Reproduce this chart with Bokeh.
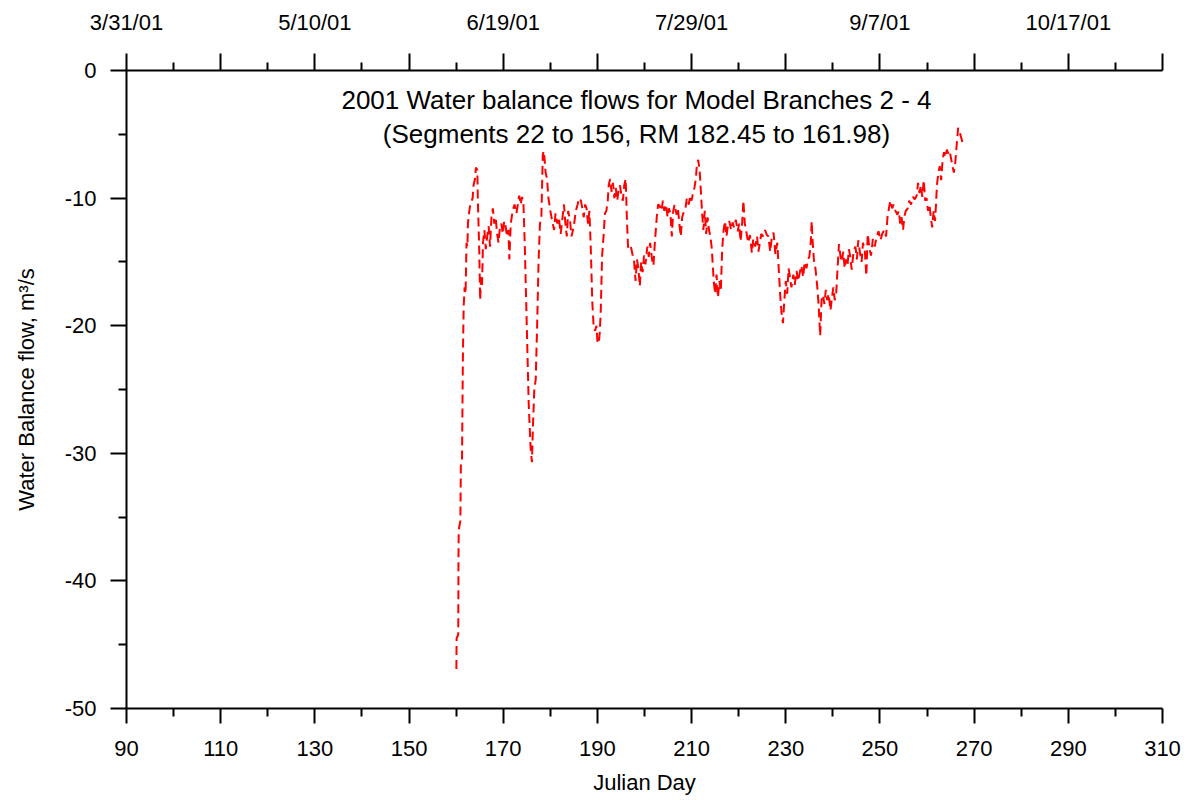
from bokeh.plotting import figure
from bokeh.models import Range1d, LinearAxis, FixedTicker, Label, ColumnDataSource
from bokeh.embed import file_html
from bokeh.resources import INLINE

# ---------------- data ----------------
julian_day = [
    160.05, 160.10, 160.45, 160.50, 160.55, 160.90, 161.00, 161.25, 161.35, 161.45,
    161.60, 161.80, 162.00, 162.20, 162.40, 162.50, 162.80, 163.00, 163.30, 163.50,
    163.70, 164.00, 164.20, 164.50, 164.60, 164.90, 165.10, 165.30, 165.50, 165.70,
    166.00, 166.30, 166.60, 166.90, 167.20, 167.50, 167.80, 168.10, 168.40, 168.70,
    169.00, 169.30, 169.60, 169.90, 170.20, 170.50, 170.80, 171.10, 171.30, 171.60,
    172.00, 172.40, 172.80, 173.10, 173.40, 173.70, 174.00, 174.30, 174.60, 175.00,
    175.40, 175.80, 176.10, 176.30, 176.60, 176.90, 177.20, 177.50, 177.80, 178.10,
    178.40, 178.60, 178.80, 179.00, 179.30, 179.60, 180.00, 180.40, 180.80, 181.10,
    181.50, 181.80, 182.20, 182.60, 182.90, 183.20, 183.50, 183.80, 184.20, 184.50,
    185.00, 185.40, 185.80, 186.10, 186.50, 186.80, 187.10, 187.40, 187.70, 188.00,
    188.30, 188.60, 188.90, 189.20, 189.50, 189.80, 190.00, 190.30, 190.50, 190.70,
    191.00, 191.30, 191.60, 191.90, 192.20, 192.40, 192.70, 193.00, 193.30, 193.60,
    193.90, 194.20, 194.50, 194.80, 195.10, 195.40, 195.70, 196.00, 196.30, 196.50,
    196.80, 197.10, 197.50, 197.80, 198.10, 198.40, 198.70, 199.00, 199.30, 199.60,
    199.90, 200.20, 200.60, 200.90, 201.20, 201.60, 201.90, 202.20, 202.60, 202.90,
    203.20, 203.60, 203.90, 204.20, 204.60, 204.90, 205.20, 205.50, 205.80, 206.10,
    206.40, 206.80, 207.10, 207.40, 207.70, 208.00, 208.40, 208.70, 209.00, 209.40,
    209.70, 210.00, 210.30, 210.60, 210.90, 211.10, 211.40, 211.70, 211.90, 212.20,
    212.50, 212.80, 213.10, 213.40, 213.70, 214.00, 214.30, 214.70, 215.00, 215.30,
    215.60, 215.90, 216.20, 216.50, 216.80, 217.10, 217.40, 217.70, 218.00, 218.40,
    218.70, 219.00, 219.40, 219.80, 220.10, 220.40, 220.70, 221.00, 221.30, 221.70,
    222.00, 222.40, 222.80, 223.10, 223.50, 223.90, 224.20, 224.50, 224.80, 225.20,
    225.60, 226.00, 226.30, 226.70, 227.00, 227.40, 227.80, 228.20, 228.50, 228.80,
    229.10, 229.40, 229.70, 230.00, 230.30, 230.60, 230.90, 231.20, 231.60, 231.90,
    232.30, 232.60, 233.00, 233.30, 233.70, 234.00, 234.40, 234.70, 235.00, 235.30,
    235.50, 235.70, 236.00, 236.30, 236.70, 237.00, 237.30, 237.60, 237.90, 238.20,
    238.50, 238.80, 239.10, 239.50, 239.80, 240.10, 240.40, 240.70, 241.00, 241.30,
    241.60, 241.90, 242.20, 242.50, 242.80, 243.10, 243.40, 243.70, 244.00, 244.40,
    244.80, 245.10, 245.40, 245.80, 246.10, 246.40, 246.80, 247.10, 247.40, 247.80,
    248.10, 248.50, 248.90, 249.30, 249.70, 250.10, 250.50, 250.90, 251.30, 251.60,
    251.90, 252.20, 252.60, 252.90, 253.30, 253.70, 254.00, 254.30, 254.60, 254.90,
    255.20, 255.50, 255.90, 256.20, 256.60, 257.00, 257.40, 257.80, 258.10, 258.40,
    258.70, 259.00, 259.30, 259.60, 259.90, 260.20, 260.50, 260.80, 261.10, 261.40,
    261.70, 261.90, 262.10, 262.40, 262.70, 263.00, 263.30, 263.60, 263.90, 264.20,
    264.50, 264.80, 265.10, 265.40, 265.70, 266.00, 266.30, 266.60, 266.90, 267.20,
    267.50, 267.80,
]

water_balance_flow = [
    -46.9, -44.5, -44.2, -38.0, -36.0, -35.3, -31.0, -30.5, -26.0, -22.0,
    -18.5, -17.0, -17.5, -13.5, -13.8, -12.0, -11.0, -10.5, -10.2, -10.0,
    -9.0, -8.5, -7.6, -7.8, -10.0, -14.0, -18.0, -16.2, -16.8, -13.5,
    -12.5, -14.0, -13.0, -12.2, -13.8, -11.5, -10.8, -12.0, -11.5, -12.8,
    -13.5, -12.3, -12.0, -12.8, -11.8, -12.2, -13.0, -12.5, -14.8, -12.0,
    -11.0, -10.5, -11.2, -10.5, -9.8, -10.5, -9.9, -10.5, -14.0, -20.0,
    -26.0, -29.5, -30.7, -28.0, -25.0, -24.2, -20.0, -15.0, -12.0, -11.5,
    -6.6, -6.3, -7.0, -8.0, -8.5, -10.0, -11.0, -11.8, -12.5, -11.2,
    -12.0, -11.5, -12.8, -11.5, -10.5, -12.0, -13.0, -11.0, -11.8, -13.0,
    -12.2, -11.0, -10.5, -10.0, -10.2, -10.8, -11.5, -10.5, -10.8, -12.0,
    -11.0, -14.0, -18.0, -20.1, -20.4, -20.0, -21.2, -21.4, -20.5, -19.0,
    -14.5, -13.0, -11.2, -11.0, -10.2, -9.0, -8.5, -9.5, -8.8, -10.0,
    -9.2, -10.2, -9.4, -9.0, -9.8, -10.2, -9.0, -8.5, -12.0, -13.8,
    -14.0, -13.8, -14.5, -15.0, -16.5, -14.8, -15.5, -16.9, -15.0, -15.8,
    -14.5, -15.2, -13.8, -14.6, -13.5, -14.8, -15.3, -13.5, -11.5, -10.5,
    -10.6, -11.0, -10.2, -11.0, -10.5, -11.5, -10.8, -11.2, -13.0, -11.0,
    -10.5, -11.3, -10.8, -12.0, -13.0, -11.5, -11.0, -10.8, -10.0, -10.5,
    -9.8, -10.2, -9.6, -9.2, -8.5, -7.5, -7.0, -7.8, -9.0, -11.0,
    -12.5, -11.0, -12.8, -11.5, -12.5, -13.0, -14.0, -16.5, -17.5, -16.0,
    -17.8, -16.5, -17.3, -14.0, -12.5, -11.8, -13.0, -12.2, -11.8, -12.5,
    -11.9, -12.3, -11.7, -12.6, -12.0, -13.4, -12.2, -10.2, -12.0, -12.8,
    -13.5, -12.9, -14.3, -13.2, -13.8, -13.0, -14.2, -13.5, -12.8, -13.0,
    -12.5, -12.9, -13.0, -14.2, -13.2, -12.7, -14.4, -13.5, -15.5, -17.5,
    -19.0, -19.8, -18.0, -16.5, -17.5, -15.5, -16.2, -17.0, -16.0, -16.8,
    -15.7, -16.5, -15.8, -15.3, -16.2, -15.0, -15.5, -14.8, -14.6, -13.5,
    -11.8, -13.3, -15.0, -15.5, -17.0, -18.5, -20.8, -18.0, -17.6, -18.3,
    -17.2, -18.0, -17.5, -18.8, -17.8, -17.0, -18.0, -17.5, -15.5, -13.6,
    -14.5, -15.0, -14.2, -15.5, -14.8, -15.3, -14.0, -14.6, -15.6, -14.2,
    -13.8, -14.8, -13.3, -14.4, -15.0, -13.5, -14.2, -16.1, -12.8, -14.0,
    -14.5, -13.2, -13.8, -13.0, -12.6, -13.3, -12.8, -12.5, -13.0, -11.5,
    -10.8, -10.2, -10.8, -10.5, -11.0, -11.3, -11.0, -12.0, -11.5, -12.5,
    -11.4, -11.0, -10.8, -10.2, -10.5, -9.9, -10.1, -9.8, -8.8, -9.6,
    -9.0, -9.9, -8.6, -10.2, -10.0, -11.0, -10.5, -11.5, -12.3, -11.0,
    -11.8, -10.5, -9.0, -8.0, -7.5, -8.6, -7.0, -6.4, -6.8, -6.2,
    -6.5, -6.3, -6.9, -7.5, -8.0, -7.2, -5.8, -4.5, -4.8, -5.2,
    -5.6, -5.8,
]

x_ticks = [90, 110, 130, 150, 170, 190, 210, 230, 250, 270, 290, 310]
x_minor = [100, 120, 140, 160, 180, 200, 220, 240, 260, 280, 300]
y_ticks = [-50, -40, -30, -20, -10, 0]
y_minor = [-45, -35, -25, -15, -5]
y_tick_labels = ["-50", "-40", "-30", "-20", "-10", "0"]
date_tick_days = [90, 130, 170, 210, 250, 290]
date_tick_labels = ["3/31/01", "5/10/01", "6/19/01", "7/29/01", "9/7/01", "10/17/01"]

title_lines = ["2001 Water balance flows for Model Branches 2 - 4",
               "(Segments 22 to 156, RM 182.45 to 161.98)"]

# ---------------- figure ----------------
FONT = "Liberation Sans"
W, H = 1190, 798

p = figure(width=W, height=H, output_backend="svg", toolbar_location=None,
           x_range=Range1d(90, 310), y_range=Range1d(-50, 0),
           x_axis_location=None, y_axis_location=None)
p.min_border_left = 126
p.min_border_right = W - 1162
p.min_border_top = 70
p.min_border_bottom = H - 708
p.outline_line_color = None
p.xgrid.visible = False
p.ygrid.visible = False
p.background_fill_color = "white"
p.border_fill_color = "white"

src = ColumnDataSource(dict(day=julian_day, flow=water_balance_flow))
p.line("day", "flow", source=src, line_color="#FF0000", line_width=2,
       line_dash="9 5")


def style_axis(ax, tick_out, minor_out):
    ax.axis_line_color = "black"
    ax.axis_line_width = 2
    ax.major_tick_line_color = "black"
    ax.major_tick_line_width = 2
    ax.minor_tick_line_color = "black"
    ax.minor_tick_line_width = 2
    ax.major_tick_in = 0
    ax.minor_tick_in = 0
    ax.major_tick_out = tick_out
    ax.minor_tick_out = minor_out
    ax.major_label_text_font = FONT
    ax.major_label_text_font_size = "22px"
    ax.major_label_text_color = "black"
    ax.axis_label_text_font = FONT
    ax.axis_label_text_font_size = "22px"
    ax.axis_label_text_font_style = "normal"
    ax.axis_label_text_color = "black"


bottom = LinearAxis(ticker=FixedTicker(ticks=x_ticks, minor_ticks=x_minor),
                    axis_label="Julian Day")
style_axis(bottom, 15, 8)
bottom.major_label_standoff = 17
bottom.axis_label_standoff = 11
p.add_layout(bottom, "below")

left = LinearAxis(ticker=FixedTicker(ticks=y_ticks, minor_ticks=y_minor),
                  axis_label="Water Balance flow, m³/s",
                  major_label_overrides=dict(zip(y_ticks, y_tick_labels)))
style_axis(left, 16, 8)
left.major_label_standoff = 14
left.axis_label_standoff = 23
p.add_layout(left, "left")

overrides = {t: "" for t in x_ticks}
for d, lab in zip(date_tick_days, date_tick_labels):
    overrides[d] = lab
top = LinearAxis(ticker=FixedTicker(ticks=x_ticks, minor_ticks=x_minor),
                 major_label_overrides=overrides)
style_axis(top, 17, 8)
top.major_label_standoff = 19
p.add_layout(top, "above")

# title (two centred lines inside the plot area)
for i, line_txt in enumerate(title_lines):
    p.add_layout(Label(x=198.3, y=-2.35 - 2.6 * i, text=line_txt,
                       text_align="center", text_baseline="middle",
                       text_font=FONT, text_font_size="26px",
                       text_color="black"))

open("out.html", "w").write(file_html(p, INLINE))
